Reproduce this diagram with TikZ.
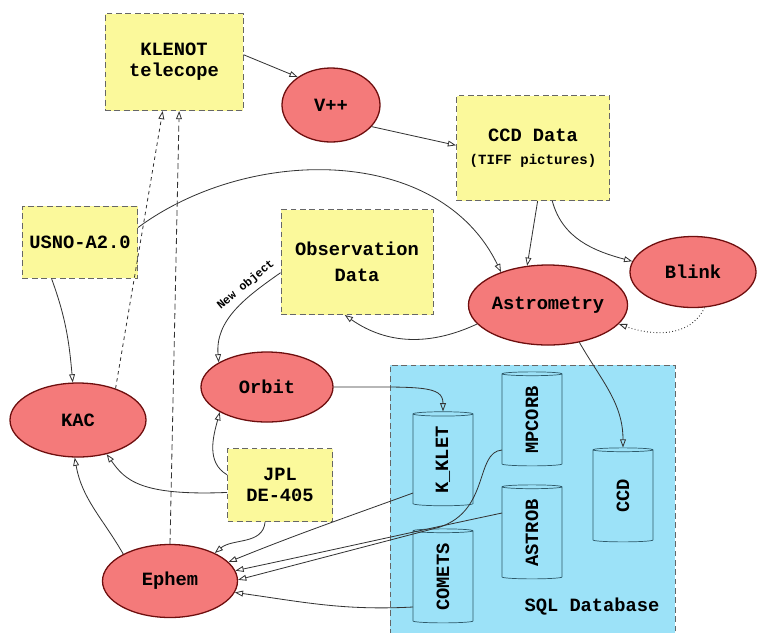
\documentclass[tikz,border=0pt]{standalone}
\usepackage{fontspec}
\setmainfont{Liberation Mono}
\usetikzlibrary{positioning,calc,shapes.geometric,arrows.meta}
\definecolor{noteyellow}{HTML}{FBF99B}
\definecolor{procred}{HTML}{F47A7A}
\definecolor{procline}{HTML}{6E0E0E}
\definecolor{sqlblue}{HTML}{9CE2F8}
\definecolor{tableline}{HTML}{2E5A6A}
\begin{document}
\begin{tikzpicture}[x=0.03cm, y=-0.03cm,
            store/.style={rectangle, draw=black!60, fill=noteyellow, dash pattern=on 5pt off 3pt, thick, align=center, inner sep=2pt, font=\fontsize{16}{18}\selectfont\bfseries},
            proc/.style={ellipse, draw=procline, fill=procred, line width=1.1pt, inner sep=0pt, font=\fontsize{16}{18}\selectfont\bfseries},
            dbtable/.style={cylinder, rotate=90, draw=tableline, fill=sqlblue, semithick, shape aspect=0.3, minimum width=1.8cm, minimum height=2.82cm, inner sep=0pt, font=\fontsize{16}{18}\selectfont\bfseries},
            flow/.style={-{Triangle[open, length=7pt, width=5pt]}, draw=black!80, line width=0.7pt}
        ]
        \clip (0,0) rectangle (758,632);
        % Database area
        \node[rectangle, draw=black!60, fill=sqlblue, dash pattern=on 5pt off 3pt, thick, minimum width=8.55cm, minimum height=9cm] (sqldb) at (532.5,515) {};
        \node[font=\fontsize{16}{18}\selectfont\bfseries] (sqllabel) at (592,607) {SQL Database};
        \node[dbtable] (kklet) at (443,460) {K\_KLET};
        \node[dbtable] (mpcorb) at (532,420) {MPCORB};
        \node[dbtable] (astrob) at (532,533) {ASTROB};
        \node[dbtable] (comets) at (443,577) {COMETS};
        \node[dbtable] (ccdcyl) at (623,496) {CCD};
        % Data sources
        \node[store, minimum width=4.14cm, minimum height=2.91cm] (klenot) at (174,62) {KLENOT\\telecope};
        \node[store, minimum width=4.59cm, minimum height=3.15cm] (ccd) at (533,148) {CCD Data\\[2pt]{\fontsize{12}{14}\selectfont(TIFF pictures)}};
        \node[store, minimum width=3.45cm, minimum height=2.16cm] (usno) at (80,242) {USNO-A2.0};
        \node[store, minimum width=4.56cm, minimum height=3.15cm] (obs) at (357,262) {Observation\\[4pt]Data};
        \node[store, minimum width=3.15cm, minimum height=2.19cm] (jpl) at (280,485) {JPL\\DE-405};
        % Programs
        \node[proc, minimum width=2.94cm, minimum height=2.22cm] (vpp) at (331,105) {V++};
        \node[proc, minimum width=3.78cm, minimum height=2.13cm] (blink) at (693,272) {Blink};
        \node[proc, minimum width=4.32cm, minimum height=2.4cm] (astro) at (548,305) {Astrometry};
        \node[proc, minimum width=3.96cm, minimum height=2.1cm] (orbit) at (267,387) {Orbit};
        \node[proc, minimum width=4.08cm, minimum height=2.22cm] (kac) at (78,420) {KAC};
        \node[proc, minimum width=4.05cm, minimum height=2.19cm] (ephem) at (170,581) {Ephem};
        % Observing chain
        \draw[flow] (klenot.6) -- (vpp.140);
        \draw[flow] (vpp.-28) -- (ccd.178);
        \draw[flow] (ccd.-85) -- (astro.118);
        \draw[flow] (ccd.-70) to[out=-75, in=165] (blink.170);
        \draw[flow, dotted, thick] (blink.-72) to[out=-115, in=-20] (astro.-15);
        \draw[flow] (astro.-165) to[out=205, in=-35] (obs.-103);
        \draw[flow] (astro.-50) to[out=-60, in=90] (ccdcyl.east);
        % Catalogue
        \draw[flow] (usno.14) .. controls (250,145) and (440,145) .. (astro.145);
        \draw[flow] (usno.-128) to[out=-70, in=95] (kac.98);
        % Pointing back to the telescope
        \draw[flow, dash pattern=on 3pt off 3pt] (kac.40) -- (klenot.-103);
        \draw[flow, dash pattern=on 5pt off 3pt] (ephem.north) -- (klenot.-84);
        % Orbits
        \draw[flow] (obs.188) to[out=215, in=95] node[sloped, above=1pt, pos=0.28, font=\fontsize{10}{12}\selectfont\bfseries] {New object} (orbit.153);
        \draw[flow] (orbit.east) .. controls (420,387) and (443,385) .. (kklet.east);
        \draw[flow] (jpl.169) to[out=150, in=-105] (orbit.-152);
        \draw[flow] (jpl.-172) .. controls (140,496) and (125,480) .. (kac.-50);
        \draw[flow] (jpl.-112) to[out=-95, in=40] (ephem.32);
        \draw[flow] (ephem.150) to[out=120, in=-80] (kac.-95);
        % Tables feeding Ephem
        \draw[flow] ($(kklet.center)+(-30,33)$) to[out=200, in=22] (ephem.18);
        \draw[flow] ($(mpcorb.center)+(-30,30)$) .. controls (475,452) and (490,510) .. (440,527) -- (ephem.1);
        \draw[flow] ($(astrob.center)+(-30,-20)$) to[out=192, in=12] (ephem.9);
        \draw[flow] ($(comets.center)+(-30,30)$) to[out=183, in=-8] (ephem.-10);
    \end{tikzpicture}
\end{document}
